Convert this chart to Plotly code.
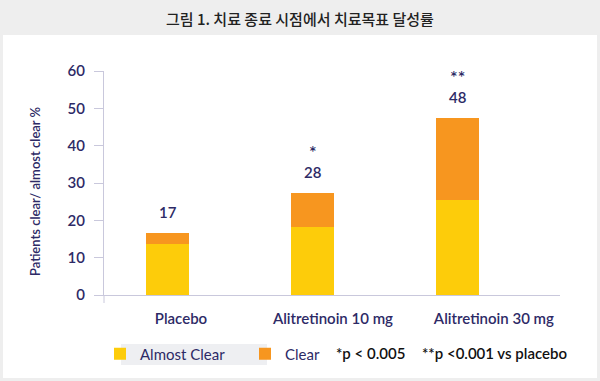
import plotly.graph_objects as go

categories = ["Placebo", "Alitretinoin 10 mg", "Alitretinoin 30 mg"]
almost_clear = [13.6, 18.1, 25.4]
clear = [2.9, 9.3, 22.1]
total_labels = ["17", "28", "48"]
significance = ["", "*", "**"]
y_ticks = [0, 10, 20, 30, 40, 50, 60]

NAVY = "#2d2a66"
YELLOW = "#fdcc0a"
ORANGE = "#f7961f"
AXIS = "#c9c8dc"
FONT = "Lato"

x_pos = list(range(len(categories)))
label_pos = [0.09, 1.138, 2.248]

fig = go.Figure()
fig.add_trace(go.Bar(x=x_pos, y=almost_clear, name="Almost Clear",
                     marker=dict(color=YELLOW, line=dict(width=0)), width=0.297))
fig.add_trace(go.Bar(x=x_pos, y=clear, name="Clear",
                     marker=dict(color=ORANGE, line=dict(width=0)), width=0.297))

totals = [a + c for a, c in zip(almost_clear, clear)]
for xi, t, lab, sig in zip(x_pos, totals, total_labels, significance):
    fig.add_annotation(x=xi, y=t, text=lab, showarrow=False, yanchor="middle",
                       yshift=21, font=dict(family=FONT, size=15, color=NAVY, weight=600))
    if sig:
        fig.add_annotation(x=xi, y=t, text=sig, showarrow=False, yanchor="bottom",
                           yshift=28, font=dict(family=FONT, size=18, color=NAVY, weight=600))

W, H = 600, 381
L, R, T, B = 104, 40, 71, 86
pw, ph = W - L - R, H - T - B

def px(x):
    return (x - L) / pw

def py(y):
    return (H - B - y) / ph

shapes = [
    dict(type="rect", xref="paper", yref="paper", x0=px(3), x1=px(597), y0=py(378), y1=py(35),
         fillcolor="white", line=dict(width=0), layer="below"),
    dict(type="rect", xref="paper", yref="paper", x0=px(121), x1=px(267), y0=py(365), y1=py(344),
         fillcolor="#eeeff2", line=dict(width=0), layer="below"),
    dict(type="line", xref="paper", yref="paper", x0=0, x1=0, y0=py(303), y1=0,
         line=dict(color=AXIS, width=1)),
]

fig.add_annotation(xref="paper", yref="paper", x=px(334), y=py(353), xanchor="left",
                   yanchor="middle", text="*p &lt; 0.005", showarrow=False,
                   font=dict(family=FONT, size=15, color="#111111", weight=600))
fig.add_annotation(xref="paper", yref="paper", x=px(420), y=py(353), xanchor="left",
                   yanchor="middle", text="**p &lt;0.001 vs placebo", showarrow=False,
                   font=dict(family=FONT, size=15, color="#111111", weight=600))
fig.add_annotation(xref="paper", yref="paper", x=px(300), y=py(18), xanchor="center",
                   yanchor="middle", text="그림 1. 치료 종료 시점에서 치료목표 달성률", showarrow=False,
                   font=dict(family="Noto Sans CJK KR", size=15, color="#222222", weight=500))
fig.add_annotation(xref="paper", yref="paper", x=px(35), y=py(191), xanchor="center",
                   yanchor="middle", textangle=-90, text="Patients clear/ almost clear %",
                   showarrow=False,
                   font=dict(family=FONT, size=13, color=NAVY, weight=600))

fig.update_layout(
    width=W, height=H,
    margin=dict(l=L, r=R, t=T, b=B, autoexpand=False),
    paper_bgcolor="#eeeeee",
    plot_bgcolor="white",
    barmode="stack",
    bargap=0,
    shapes=shapes,
    showlegend=True,
    legend=dict(orientation="h", x=px(100), y=py(354), xanchor="left", yanchor="middle",
                font=dict(family=FONT, size=15, color=NAVY, weight="normal"),
                bgcolor="rgba(0,0,0,0)", entrywidth=100, entrywidthmode="pixels",
                itemwidth=30, itemclick=False, traceorder="normal"),
    xaxis=dict(range=[-0.441, 2.704], tickvals=label_pos, ticktext=categories,
               showgrid=False, zeroline=False, showline=True, linecolor=AXIS, linewidth=1,
               ticks="", ticklabelstandoff=10,
               tickfont=dict(family=FONT, size=15, color=NAVY, weight=600)),
    yaxis=dict(range=[0, 60], tickvals=y_ticks, showgrid=False, zeroline=False,
               showline=True, linecolor=AXIS, linewidth=1,
               ticks="outside", ticklen=9, tickcolor=AXIS,
               tickfont=dict(family=FONT, size=15, color=NAVY, weight=600),
               ticklabelstandoff=6),
)

fig.write_html("out.html", config={"displayModeBar": False},
               post_script="document.body.style.margin='0px';")
